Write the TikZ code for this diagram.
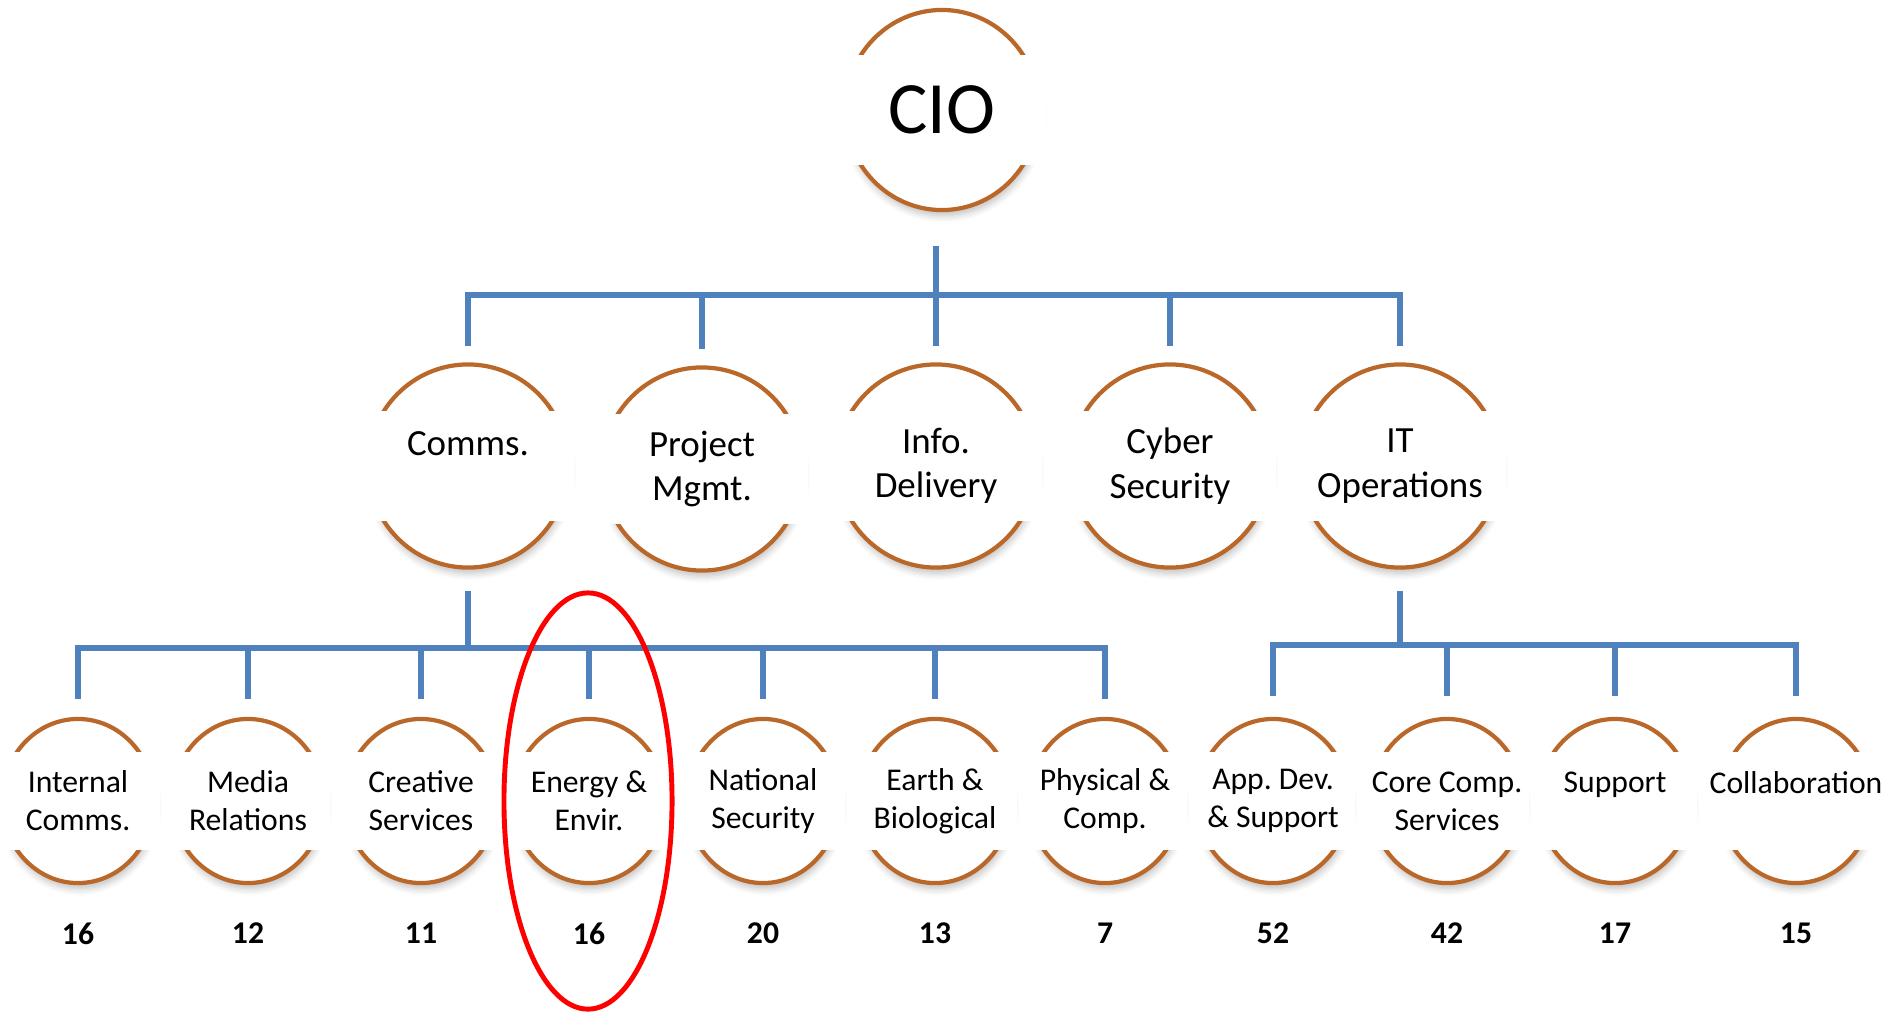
\documentclass[tikz,border=0pt]{standalone}
\usepackage{fontspec}
\setmainfont{Carlito}
\frenchspacing
\usepackage{tikz}
\usetikzlibrary{positioning, calc, shapes.geometric, shadows.blur}
\definecolor{ringbrown}{RGB}{186,104,42}
\definecolor{linkblue}{RGB}{79,129,189}
\tikzset{
  ring/.style={
    ellipse, draw=ringbrown, line width=1.2pt, fill=white, inner sep=0pt,
    blur shadow={shadow xshift=0.4pt, shadow yshift=-1.6pt,
                 shadow opacity=25, shadow blur steps=6}
  },
  headring/.style={ring, minimum width=1.94cm, minimum height=2.0cm},
  midring/.style={ring, minimum width=2.0cm, minimum height=2.03cm},
  subring/.style={ring, minimum width=1.52cm, minimum height=1.64cm},
  band/.style={fill=white, inner sep=0pt, align=center},
  headband/.style={band, minimum width=2.08cm, minimum height=1.10cm,
    font=\fontsize{21}{25}\selectfont},
  midband/.style={band, minimum width=2.12cm, minimum height=1.10cm,
    font=\fontsize{10.5}{12.6}\selectfont},
  subband/.style={band, minimum width=1.64cm, minimum height=0.98cm,
    font=\fontsize{9}{10.8}\selectfont},
  count/.style={inner sep=0pt, font=\fontsize{9}{10.8}\selectfont\bfseries},
  link/.style={draw=linkblue, line width=1.45pt, line cap=rect},
  focus/.style={
    ellipse, draw=red, line width=1.4pt, inner sep=0pt,
    minimum width=1.68cm, minimum height=4.16cm
  }
}

\begin{document}
\begin{tikzpicture}[x=0.01cm, y=-0.01cm]
  \useasboundingbox (0,0) rectangle (1889,1012);

  \node[headring] (cio) at (942,110) {};
  \node[headband] (cioL) at (cio) {CIO};

  \node[midring] (comms) at (468,466) {};
  \node[midband] (commsL) at (comms) {Comms.\\~};
  \node[midring] (pm) at (702,469) {};
  \node[midband] (pmL) at (pm) {Project\\Mgmt.};
  \node[midring] (info) at (936,466) {};
  \node[midband] (infoL) at (info) {Info.\\Delivery};
  \node[midring] (cyber) at (1170,466) {};
  \node[midband] (cyberL) at (cyber) {Cyber\\Security};
  \node[midring] (itops) at (1400,466) {};
  \node[midband] (itopsL) at (itops) {IT\\Operations};

  \node[subring] (intcomms) at (78,801) {};
  \node[subband] (intcommsL) at (intcomms) {Internal\\Comms.};
  \node[subring] (media) at (248,801) {};
  \node[subband] (mediaL) at (media) {Media\\Relations};
  \node[subring] (creative) at (421,801) {};
  \node[subband] (creativeL) at (creative) {Creative\\Services};
  \node[subring] (energy) at (589,801) {};
  \node[subband] (energyL) at (energy) {Energy \&\\Envir.};
  \node[subring] (natsec) at (763,801) {};
  \node[subband] (natsecL) at (natsec) {National\\Security};
  \node[subring] (earth) at (935,801) {};
  \node[subband] (earthL) at (earth) {Earth \&\\Biological};
  \node[subring] (physcomp) at (1105,801) {};
  \node[subband] (physcompL) at (physcomp) {Physical \&\\Comp.};
  \node[subring] (appdev) at (1273,801) {};
  \node[subband] (appdevL) at (appdev) {App. Dev.\\\& Support};
  \node[subring] (corecomp) at (1447,801) {};
  \node[subband] (corecompL) at (corecomp) {Core Comp.\\Services};
  \node[subring] (support) at (1615,801) {};
  \node[subband] (supportL) at (support) {Support\\~};
  \node[subring] (collab) at (1796,801) {};
  \node[subband] (collabL) at (collab) {Collaboration\\~};

  \node[count, below=0.37cm of intcomms] (intcommsN) {16};
  \node[count, below=0.37cm of media] (mediaN) {12};
  \node[count, below=0.37cm of creative] (creativeN) {11};
  \node[count, below=0.37cm of energy] (energyN) {16};
  \node[count, below=0.37cm of natsec] (natsecN) {20};
  \node[count, below=0.37cm of earth] (earthN) {13};
  \node[count, below=0.37cm of physcomp] (physcompN) {7};
  \node[count, below=0.37cm of appdev] (appdevN) {52};
  \node[count, below=0.37cm of corecomp] (corecompN) {42};
  \node[count, below=0.37cm of support] (supportN) {17};
  \node[count, below=0.37cm of collab] (collabN) {15};

  % bus lines
  \coordinate (bus0) at (936,295);
  \coordinate (bus1) at (468,648);
  \coordinate (bus2) at (1400,645);

  \draw[link] ($(info |- cio.south)+(0,36)$) -- (info |- bus0);
  \draw[link] (comms |- bus0) -- (itops |- bus0);
  \draw[link] (comms |- bus0) -- ($(comms.north)+(0,-19)$);
  \draw[link] (pm |- bus0) -- ($(pm.north)+(0,-19)$);
  \draw[link] (info |- bus0) -- ($(info.north)+(0,-19)$);
  \draw[link] (cyber |- bus0) -- ($(cyber.north)+(0,-19)$);
  \draw[link] (itops |- bus0) -- ($(itops.north)+(0,-19)$);

  \draw[link] ($(comms.south)+(0,24)$) -- (comms |- bus1);
  \draw[link] (intcomms |- bus1) -- (physcomp |- bus1);
  \draw[link] (intcomms |- bus1) -- ($(intcomms.north)+(0,-20)$);
  \draw[link] (media |- bus1) -- ($(media.north)+(0,-20)$);
  \draw[link] (creative |- bus1) -- ($(creative.north)+(0,-20)$);
  \draw[link] (energy |- bus1) -- ($(energy.north)+(0,-20)$);
  \draw[link] (natsec |- bus1) -- ($(natsec.north)+(0,-20)$);
  \draw[link] (earth |- bus1) -- ($(earth.north)+(0,-20)$);
  \draw[link] (physcomp |- bus1) -- ($(physcomp.north)+(0,-20)$);

  \draw[link] ($(itops.south)+(0,24)$) -- (itops |- bus2);
  \draw[link] (appdev |- bus2) -- (collab |- bus2);
  \draw[link] (appdev |- bus2) -- ($(appdev.north)+(0,-23)$);
  \draw[link] (corecomp |- bus2) -- ($(corecomp.north)+(0,-23)$);
  \draw[link] (support |- bus2) -- ($(support.north)+(0,-23)$);
  \draw[link] (collab |- bus2) -- ($(collab.north)+(0,-23)$);

  \node[focus] (spot) at (588,801) {};
\end{tikzpicture}
\end{document}
